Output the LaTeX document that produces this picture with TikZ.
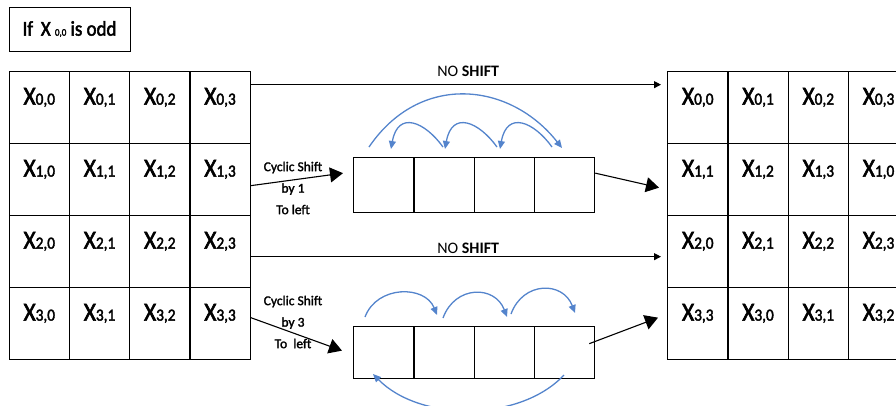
\documentclass[tikz,border=0pt]{standalone}
\usepackage{fontspec}
\setmainfont[FakeStretch=0.9,FakeBold=2.2]{Carlito}
\newfontfamily\labelfont[FakeBold=1.8]{Carlito}
\newfontfamily\nsfont{Carlito}
\usetikzlibrary{arrows.meta,calc}
\definecolor{arcblue}{RGB}{84,132,204}
\newcommand\cellX[2]{{\fontsize{26}{30}\selectfont X}{\fontsize{17}{20}\selectfont #1,#2}}
\begin{document}
\begin{tikzpicture}[x=1pt,y=-1pt,
  cell/.style={draw, line width=1.3pt, minimum width=60.25pt, minimum height=72pt,
    inner sep=0pt, text height=17pt, text depth=23pt, anchor=north west},
  midcell/.style={draw, line width=1.3pt, minimum width=60.25pt, minimum height=55pt,
    inner sep=0pt, anchor=north west},
  noshift/.style={line width=1.1pt, -{Triangle[length=7pt,width=7pt]}},
  bigarrow/.style={line width=1.1pt, -{Triangle[length=13pt,width=15pt]}},
  bluearc/.style={arcblue, line width=1.3pt, -{Triangle[length=8pt,width=7pt]}},
  shiftlbl/.style={font=\labelfont\fontsize{13.5}{21.5}\selectfont, align=center, inner sep=0pt},
  nslbl/.style={font=\nsfont\fontsize{16}{18}\selectfont, inner sep=0pt}
]
\useasboundingbox (0,0) rectangle (896,405);
\clip (0,0) rectangle (896,405);

% condition box
\node[draw, line width=1pt, minimum width=121pt, minimum height=44pt, inner sep=0pt]
  (cond) at (69.5,29) {\fontsize{21}{24}\selectfont If\, X {\fontsize{10}{10}\selectfont 0,0} is odd};

% left matrix
\foreach \r in {0,...,3}
  \foreach \c in {0,...,3}
    \node[cell] (L\r\c) at ({8.5+60.25*\c},{71+72*\r}) {\cellX{\r}{\c}};

% right matrix
\foreach \r in {0,...,3}
  \foreach \c in {0,...,3}{
    \pgfmathtruncatemacro\k{mod(\c+\r*mod(\r,2),4)}
    \node[cell] (R\r\c) at ({667+60.25*\c},{71+72*\r}) {\cellX{\r}{\k}};
  }

% middle boxes
\foreach \c in {0,...,3}{
  \node[midcell] (M1\c) at ({353+60.25*\c},157) {};
  \node[midcell, minimum height=52pt] (M3\c) at ({353+60.25*\c},326) {};
}

% row 0: no shift
\draw[noshift] ([yshift=23pt]L03.east) -- node[pos=0.53, above=7pt, nslbl] (ns0) {NO \textbf{SHIFT}} ([yshift=23pt,xshift=-6pt]R00.west);
% row 2: no shift
\draw[noshift] ([yshift=-5pt]L23.east) -- node[pos=0.53, above=2pt, nslbl] (ns2) {NO \textbf{SHIFT}} ([yshift=-5pt,xshift=-6pt]R20.west);

% row 1: cyclic shift by 1
\draw[bigarrow] ([yshift=-6pt]L13.east) -- ([xshift=-10pt,yshift=12pt]M10.west);
\draw[bigarrow] ([yshift=12pt]M13.east) -- ([xshift=-8pt,yshift=-8pt]R10.west);
\node[shiftlbl] (lab1) at (293,188) {Cyclic Shift\\by 1\\To left};

% row 3: cyclic shift by 3
\draw[bigarrow] ([yshift=6pt]L33.east) -- ([xshift=-11pt,yshift=2pt]M30.west);
\draw[bigarrow] ([xshift=-6pt,yshift=9pt]M33.east) -- ([xshift=-9pt,yshift=6pt]R30.west);
\node[shiftlbl] (lab3) at (293,322) {Cyclic Shift\\by 3\\To\ \ left};

% blue arcs, row 1
\draw[bluearc] (369,147) .. controls (420,72) and (510,82) .. (562,148);
\foreach \x in {391,445,500}
  \draw[bluearc] ({\x+52},147) .. controls ({\x+34},122) and ({\x+7},110) .. (\x,149);

% blue arcs, row 3
\draw[bluearc] (365,317) .. controls (377,285) and (425,285) .. (437,315);
\draw[bluearc] (443,318) .. controls (455,285) and (495,285) .. (507,317);
\draw[bluearc] (511,314) .. controls (523,281) and (563,281) .. (575,313);
\draw[bluearc] (564,375) .. controls (520,422) and (420,422) .. (373,374);
\end{tikzpicture}
\end{document}
